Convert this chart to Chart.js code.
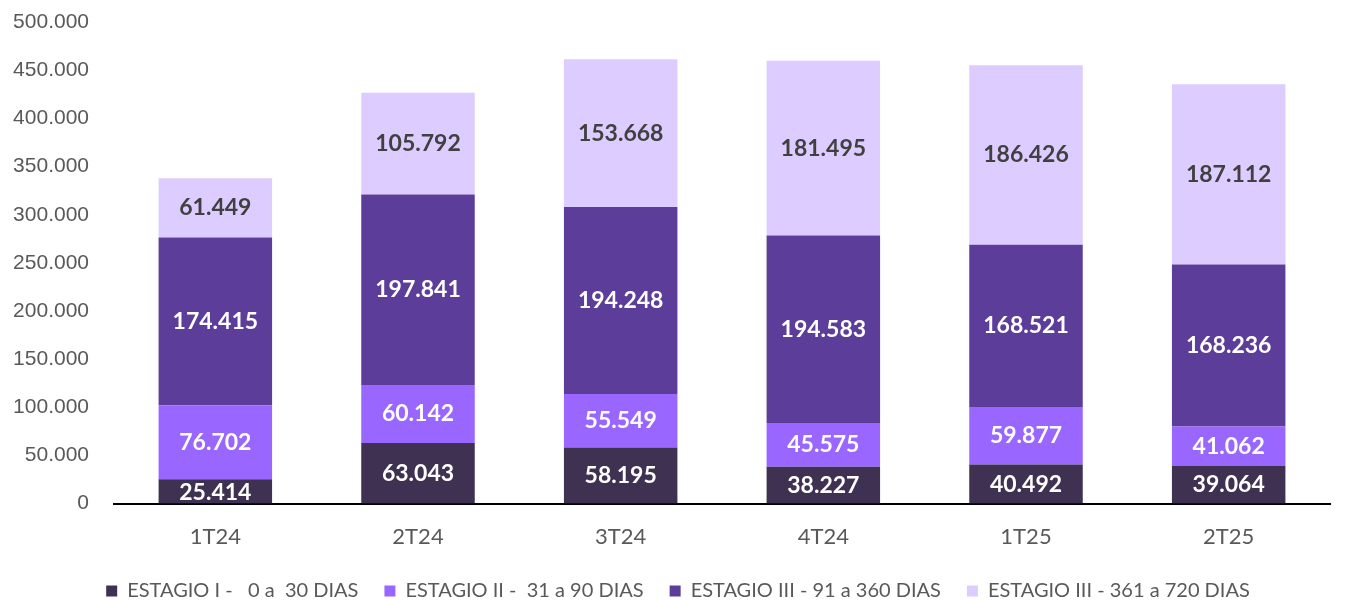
<!DOCTYPE html>
<html>
<head>
<meta charset="utf-8">
<script src="https://cdn.jsdelivr.net/npm/chart.js@4"></script>
<style>
  html, body { margin: 0; padding: 0; background: #fff; }
  #wrap { width: 1345px; height: 600px; }
</style>
</head>
<body>
<div id="wrap"><canvas id="myChart"></canvas></div>
<script>
'use strict';

const quarters = ['1T24', '2T24', '3T24', '4T24', '1T25', '2T25'];
const seriesNames = [
  'ESTAGIO I -   0 a  30 DIAS',
  'ESTAGIO II -  31 a 90 DIAS',
  'ESTAGIO III - 91 a 360 DIAS',
  'ESTAGIO III - 361 a 720 DIAS',
];
const stage1 = [25414, 63043, 58195, 38227, 40492, 39064];
const stage2 = [76702, 60142, 55549, 45575, 59877, 41062];
const stage3 = [174415, 197841, 194248, 194583, 168521, 168236];
const stage3Late = [61449, 105792, 153668, 181495, 186426, 187112];
const yTicks = [0, 50000, 100000, 150000, 200000, 250000, 300000, 350000, 400000, 450000, 500000];

const colors = ['#3F3152', '#9966FF', '#5C3D99', '#DDCCFF'];
const labelColors = ['#FFFFFF', '#FFFFFF', '#FFFFFF', '#404040'];

const fmt = (v) => String(v).replace(/\B(?=(\d{3})+(?!\d))/g, '.');

const barLabels = {
  id: 'barLabels',
  afterDatasetsDraw(chart) {
    const ctx = chart.ctx;
    ctx.save();
    ctx.font = 'bold 23px Lato';
    ctx.textAlign = 'center';
    ctx.textBaseline = 'middle';
    chart.data.datasets.forEach((ds, i) => {
      chart.getDatasetMeta(i).data.forEach((bar, j) => {
        ctx.fillStyle = labelColors[i];
        const y = i === 0 && ds.data[j] < 30000 ? bar.y + (bar.base - bar.y) / 2 + 1 : (bar.y + bar.base) / 2;
        ctx.fillText(fmt(ds.data[j]), bar.x, y);
      });
    });
    ctx.restore();
  },
};

// nudge the legend a little to the right, like the original
const legendShift = {
  id: 'legendShift',
  afterLayout(chart) {
    chart.legend.left += 13;
    chart.legend.right += 13;
  },
};

const data = {
  labels: quarters,
  datasets: [stage1, stage2, stage3, stage3Late].map((vals, i) => ({
    label: seriesNames[i],
    data: vals,
    backgroundColor: colors[i],
    barPercentage: 0.56,
    categoryPercentage: 1,
  })),
};

const config = {
  type: 'bar',
  data: data,
  options: {
    responsive: true,
    maintainAspectRatio: false,
    animation: false,
    layout: { padding: { top: 21, right: 15, left: 0, bottom: -11 } },
    plugins: {
      tooltip: { enabled: false },
      legend: {
        position: 'bottom',
        labels: {
          boxWidth: 11,
          boxHeight: 11,
          padding: 26,
          color: '#595959',
          font: { family: 'Lato', size: 20 },
        },
      },
    },
    scales: {
      x: {
        stacked: true,
        grid: { display: false },
        border: { display: true, color: '#000000', width: 2 },
        ticks: { color: '#595959', font: { family: 'Lato', size: 22 }, padding: 12 },
        afterFit: (scale) => { scale.height -= 7; },
      },
      y: {
        stacked: true,
        min: 0,
        max: 500000,
        afterBuildTicks: (scale) => { scale.ticks = yTicks.map((v) => ({ value: v })); },
        afterFit: (scale) => { scale.width = 114; },
        grid: { display: false },
        border: { display: false },
        ticks: {
          color: '#595959',
          font: { family: 'Liberation Sans', size: 21, lineHeight: 0.5 },
          padding: 17,
          callback: (v) => fmt(v),
        },
      },
    },
  },
  plugins: [barLabels, legendShift],
};

const myChart = new Chart(document.getElementById('myChart'), config);
</script>
</body>
</html>
